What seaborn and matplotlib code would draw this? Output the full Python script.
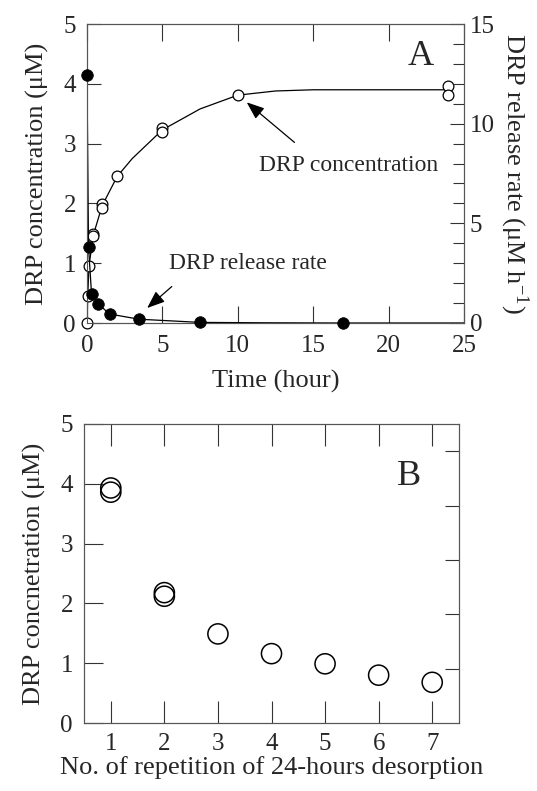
import numpy as np
import pandas as pd
import matplotlib
matplotlib.use("Agg")
import matplotlib.pyplot as plt
import seaborn as sns

# ---- Panel A data ----
conc_t = [0, 0.05, 0.13, 0.42, 0.42, 0.97, 0.97, 1.96, 4.99, 4.99, 10.0, 23.97, 23.97]
conc_c = [0.0, 0.45, 0.95, 1.49, 1.45, 1.99, 1.93, 2.45, 3.26, 3.20, 3.81, 3.96, 3.82]

rate_t = [0.0, 0.1, 0.3, 0.75, 1.5, 3.45, 7.5, 16.95]
rate_r = [12.44, 3.83, 1.46, 0.95, 0.45, 0.19, 0.03, 0.0]

# fitted curves
ccurve_t = [0, 0.05, 0.13, 0.42, 1.0, 2.0, 3.0, 5.0, 7.5, 10, 12.5, 15, 20, 24]
ccurve_c = [0, 0.45, 0.95, 1.47, 1.96, 2.45, 2.75, 3.23, 3.58, 3.81, 3.88, 3.9, 3.9, 3.9]
rcurve_t = [0.0, 0.1, 0.3, 0.75, 1.5, 3.45, 7.5, 12, 16.95, 25]
rcurve_r = [12.44, 3.83, 1.46, 0.95, 0.45, 0.19, 0.03, 0.01, 0.0, 0.0]

# ---- Panel B data ----
rep_n = [1, 1, 2, 2, 3, 4, 5, 6, 7]
rep_c = [3.93, 3.86, 2.18, 2.12, 1.49, 1.16, 0.99, 0.80, 0.68]

sns.set_theme(style="ticks")
plt.rcParams["font.family"] = ["Liberation Serif", "DejaVu Serif"]
plt.rcParams["mathtext.fontset"] = "stix"
plt.rcParams["axes.edgecolor"] = "#555555"
plt.rcParams["axes.linewidth"] = 0.8

TS = 18   # tick labels
LS = 19   # axis labels
AS = 17   # annotations
fig = plt.figure(figsize=(5.37, 7.91), dpi=100)

# ================= Panel A =================
axA = fig.add_axes([87/537, 1-323/791, (464-87)/537, (323-24)/791])
axR = axA.twinx()

df_cc = pd.DataFrame({"t": ccurve_t, "c": ccurve_c})
df_rc = pd.DataFrame({"t": rcurve_t, "r": rcurve_r})
df_c = pd.DataFrame({"t": conc_t, "c": conc_c})
df_r = pd.DataFrame({"t": rate_t, "r": rate_r})

sns.lineplot(data=df_cc, x="t", y="c", ax=axA, color="black", lw=0.9,
             sort=False, estimator=None, zorder=2)
sns.lineplot(data=df_rc, x="t", y="r", ax=axR, color="black", lw=0.9,
             sort=False, estimator=None, zorder=2)
sns.scatterplot(data=df_c, x="t", y="c", ax=axA, s=60, facecolor="white",
                edgecolor="black", linewidth=0.9, zorder=3, clip_on=False)
sns.scatterplot(data=df_r, x="t", y="r", ax=axR, s=70, color="black",
                edgecolor="black", linewidth=0.5, zorder=3, clip_on=False)

axA.set_xlim(0, 25)
axA.set_ylim(0, 5)
axR.set_ylim(0, 15)
axA.set_xticks([0, 5, 10, 15, 20, 25])
axA.set_yticks([0, 1, 2, 3, 4, 5])
axR.set_yticks([0, 5, 10, 15])
axR.set_yticks(np.arange(0, 16, 1), minor=True)
axA.tick_params(axis="x", direction="in", length=12, width=0.8, top=True,
                labelsize=TS, pad=9, color="#333333")
axA.tick_params(axis="y", direction="in", length=10, width=0.8,
                labelsize=TS, pad=8, color="#333333")
axR.tick_params(axis="y", which="major", direction="in", length=10, width=0.8,
                labelsize=TS, pad=4, color="#333333")
axR.tick_params(axis="y", which="minor", direction="in", length=8, width=0.8,
                color="#333333")
axA.set_xlabel("Time (hour)", fontsize=LS, labelpad=9)
axA.set_ylabel("DRP concentration (μM)", fontsize=LS, labelpad=10)
axR.set_ylabel(r"DRP release rate (μM h$^{\mathregular{-1}}$)", fontsize=LS,
               rotation=270, labelpad=26)

axA.text(22.1, 4.45, "A", fontsize=26, ha="center", va="center")
axA.annotate("", xy=(10.45, 3.72), xytext=(13.9, 2.99),
             arrowprops=dict(arrowstyle="-|>,head_length=0.9,head_width=0.35",
                             color="black", lw=0.9))
axA.text(11.4, 2.64, "DRP concentration", fontsize=AS, ha="left", va="center")
axA.annotate("", xy=(3.85, 0.22), xytext=(5.76, 0.64),
             arrowprops=dict(arrowstyle="-|>,head_length=0.9,head_width=0.35",
                             color="black", lw=0.9))
axA.text(5.43, 1.0, "DRP release rate", fontsize=AS, ha="left", va="center")

# ================= Panel B =================
axB = fig.add_axes([84/537, 1-723/791, (459-84)/537, (723-424)/791])
df_b = pd.DataFrame({"n": rep_n, "c": rep_c})
sns.scatterplot(data=df_b, x="n", y="c", ax=axB, s=210, facecolor="none",
                edgecolor="black", linewidth=1.1, zorder=3)
axB.set_xlim(0.5, 7.5)
axB.set_ylim(0, 5)
axB.set_xticks(range(1, 8))
axB.set_yticks([0, 1, 2, 3, 4, 5])
axB.tick_params(axis="x", direction="in", length=16, width=0.8, top=True,
                labelsize=TS, pad=7, color="#333333")
axB.tick_params(axis="y", direction="in", length=14, width=0.8,
                labelsize=TS, pad=8, color="#333333")
axBR = axB.twinx()
axBR.set_ylim(0, 5.5)
axBR.set_yticks([1, 2, 3, 4, 5])
axBR.tick_params(axis="y", direction="in", length=10, width=0.8,
                 labelright=False, color="#333333")
axB.set_xlabel("No. of repetition of 24-hours desorption", fontsize=LS, labelpad=1)
axB.set_ylabel("DRP concnetration (μM)", fontsize=LS, labelpad=10)
axB.text(6.57, 4.13, "B", fontsize=26, ha="center", va="center")

fig.savefig("out.png", dpi=100)
